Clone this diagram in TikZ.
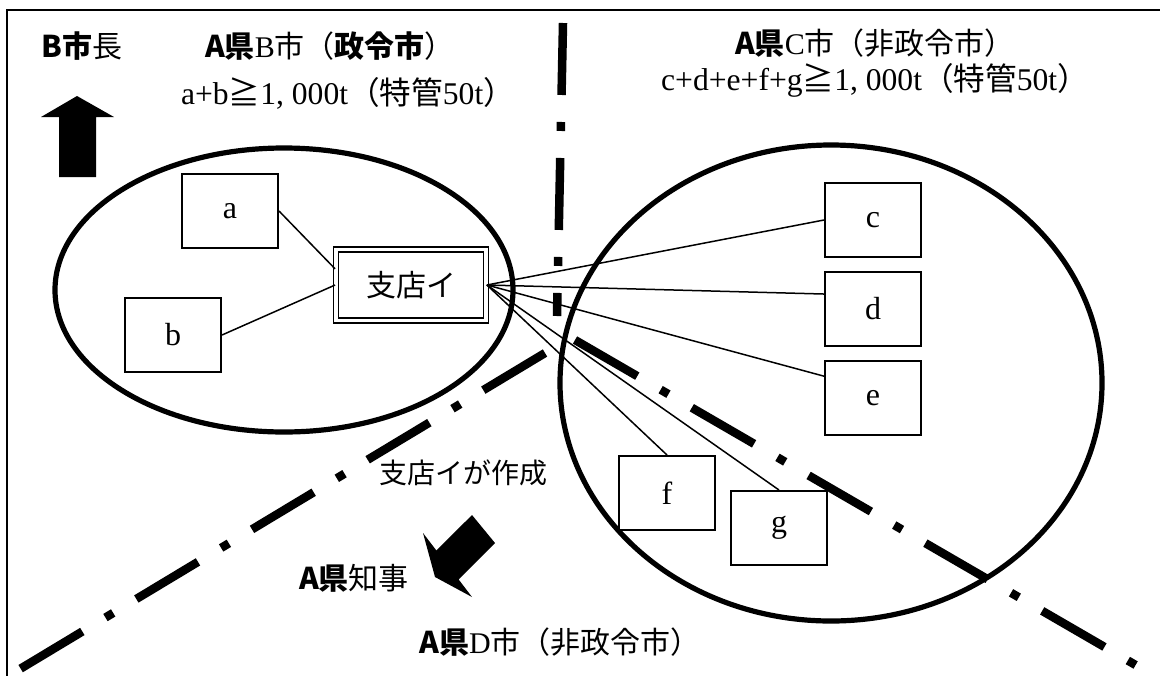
\documentclass[tikz,border=0pt]{standalone}
\usepackage{fontspec}
\setmainfont{Liberation Serif}
\newfontfamily\jp{Noto Sans CJK JP}
\usetikzlibrary{positioning}
\newcommand\gothic[1]{{\jp\bfseries #1}}
\newcommand\mincho[1]{{\jp #1}}
\tikzset{
    memberbox/.style={draw=black, fill=white, line width=1pt, minimum width=48pt,
        minimum height=37pt, inner sep=0pt, font=\fontsize{16}{18}\selectfont},
    branchbox/.style={draw=black, line width=0.9pt, double, double distance=1.6pt,
        minimum width=75pt, minimum height=35.5pt, inner sep=0pt, font=\jp\fontsize{15}{17}\selectfont},
    link/.style={draw=black, line width=0.75pt},
    arealoop/.style={draw=black, line width=2.6pt},
    cityline/.style={draw=black, line width=4.25pt,
        dash pattern=on 36pt off 13.5pt on 4.5pt off 13.5pt},
    lbl/.style={inner sep=0pt, font=\fontsize{15}{17}\selectfont},
    sumlbl/.style={lbl, font=\fontsize{15.8}{18}\selectfont},
    bigarrow/.style={fill=black},
}
\begin{document}
\begin{tikzpicture}[x=0.5pt, y=-0.5pt]
	\useasboundingbox (0,0) rectangle (1160,675);
	\draw[line width=1pt] (7,690) -- (7,10) -- (1170,10);
	%
	\draw[cityline] (563,23) -- (557,316);
	\draw[cityline] (545,353) -- (15,672);
	\draw[cityline] (575,340) -- (1158,678);
	\draw[arealoop] (284,290) ellipse [x radius=114.5pt, y radius=71pt];
	\draw[arealoop] (831,383) ellipse [x radius=135.5pt, y radius=119pt];
	%
	\node[lbl] (mayor) at (82,46) {\gothic{B市}\mincho{長}};
	\node[lbl] (btitle) at (330,46) {\gothic{A県}B\mincho{市（}\gothic{政令市}\mincho{）}};
	\node[sumlbl] (bsum) at (348,93) {a+b\mincho{≧}1, 000t\mincho{（特管}50t\mincho{）}};
	\node[lbl] (ctitle) at (875,43) {\gothic{A県}C\mincho{市（非政令市）}};
	\node[sumlbl] (csum) at (875,80) {c+d+e+f+g\mincho{≧}1, 000t\mincho{（特管}50t\mincho{）}};
	\node[lbl, font=\fontsize{14}{16}\selectfont] (made) at (463,473) {\mincho{支店イが作成}};
	\node[lbl] (governor) at (354,578) {\gothic{A県}\mincho{知事}};
	\node[lbl] (dtitle) at (560,642) {\gothic{A県}D\mincho{市（非政令市）}};
	%
	\node[branchbox] (shiten) at (411,285) {支店イ};
	\node[memberbox] (a) at (230,211) {a};
	\node[memberbox] (b) at (173,335) {b};
	\node[memberbox] (c) at (873,220) {c};
	\node[memberbox] (d) [below=6.5pt of c] {d};
	\node[memberbox] (e) [below=6.5pt of d] {e};
	\node[memberbox] (f) at (667,493) {f};
	\node[memberbox] (g) at (779,528) {g};
	%
	\draw[link] (a.east) -- (shiten.168);
	\draw[link] (b.east) -- (shiten.west);
	\draw[link] (shiten.east) -- (c.west);
	\draw[link] (shiten.east) -- (d.163);
	\draw[link] (shiten.east) -- (e.156);
	\draw[link] (shiten.east) -- (f.north);
	\draw[link] (shiten.east) -- (g.north);
	%
	\fill[bigarrow] (77,96) -- (114,117) -- (96,117) -- (96,177) -- (59,177) -- (59,117) -- (41,117) -- cycle;
	\fill[bigarrow] (472,515) -- (495,543) -- (458.6,579.4) -- (472,597) -- (435,577) -- (423,533) -- (436.4,550.5) -- cycle;
\end{tikzpicture}
\end{document}
